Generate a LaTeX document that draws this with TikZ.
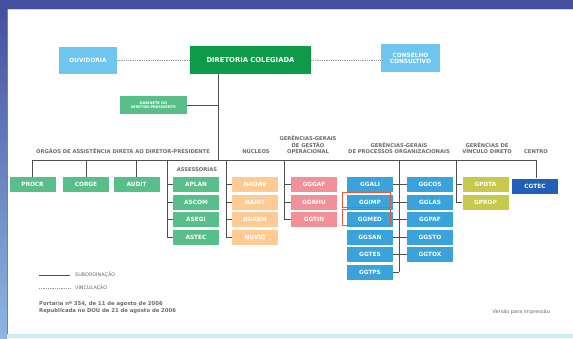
\documentclass[tikz,border=0pt]{standalone}
\usepackage{fontspec}
\setmainfont{DejaVu Sans}
\usepackage{tikz}
\usetikzlibrary{positioning,calc}
\definecolor{anvframe}{HTML}{4650A0}
\definecolor{anvframelight}{HTML}{8DB6E2}
\definecolor{anvsky}{HTML}{6EC6F0}
\definecolor{anvgreen}{HTML}{0F9A4A}
\definecolor{anvmint}{HTML}{58BF8B}
\definecolor{anvpeach}{HTML}{FFCB92}
\definecolor{anvrose}{HTML}{F2909A}
\definecolor{anvblue}{HTML}{3AA3DB}
\definecolor{anvolive}{HTML}{C6C94C}
\definecolor{anvnavy}{HTML}{2160B6}
\definecolor{anvline}{HTML}{4F4F4F}
\definecolor{anvtext}{HTML}{6A6A6A}
\definecolor{anvred}{HTML}{E8583A}
\tikzstyle{unit} = [font=\bfseries\fontsize{5.8}{7}\selectfont, text=white, minimum width=46pt, minimum height=15pt, inner sep=0pt]
\tikzstyle{head} = [font=\bfseries\fontsize{5.2}{6.4}\selectfont, text=anvtext, align=center, anchor=south, inner sep=0pt]
\tikzstyle{legend} = [font=\fontsize{4.9}{5.5}\selectfont, text=anvtext, anchor=west, inner sep=0pt]
\tikzstyle{sub} = [anvline, line width=0.9pt]
\tikzstyle{vinc} = [anvtext!70, densely dotted, line width=0.8pt]

\begin{document}
\begin{tikzpicture}[x=1pt,y=-1pt]
\useasboundingbox (0,0) rectangle (573,338);
% page and frame
\fill[anvframe] (0,0) rectangle (573,338);
\shade[top color=anvframe, bottom color=anvframelight] (0,9) rectangle (7,338);
\fill[white] (7,9) rectangle (573,334);
\fill[anvsky!35] (7,334) rectangle (573,338);
\draw[gray, line width=1.5pt] (7.5,9) -- (7.5,334);
\draw[red!25, line width=0.6pt] (8,9.5) -- (573,9.5);

% top level
\node[unit, fill=anvsky, minimum width=58pt, minimum height=27pt] (ouvidoria) at (88,60.5) {OUVIDORIA};
\node[unit, fill=anvgreen, minimum width=121pt, minimum height=28pt, font=\bfseries\fontsize{6.8}{8}\selectfont] (diretoria) at (250.5,60) {DIRETORIA COLEGIADA};
\node[unit, fill=anvsky, minimum width=59pt, minimum height=28pt, align=center] (conselho) at (410.5,58) {CONSELHO\\[-1pt]CONSULTIVO};
\draw[vinc] (diretoria.west) -- (diretoria.west -| ouvidoria.east);
\draw[vinc] (diretoria.east) -- (diretoria.east -| conselho.west);

\node[unit, fill=anvmint, minimum width=67pt, minimum height=18pt, align=center, font=\bfseries\fontsize{3.6}{4.4}\selectfont] (gabinete) at (153.5,105) {GABINETE DO\\DIRETOR-PRESIDENTE};

% trunk and bar
\coordinate (trunk) at (218,160);
\coordinate (barw) at (32,160);
\coordinate (bare) at (536,160);
\draw[sub] (diretoria.south -| trunk) -- (trunk);
\draw[sub] (gabinete.east) -- (gabinete.east -| trunk);
\draw[sub] (barw) -- (bare);

% headers
\node[head] (hdorgaos) at (123,154) {ÓRGÃOS DE ASSISTÊNCIA DIRETA AO DIRETOR-PRESIDENTE};
\node[head] (hdnucleos) at (256,154) {NÚCLEOS};
\node[head] (hdoper) at (308,154) {GERÊNCIAS-GERAIS\\DE GESTÃO\\OPERACIONAL};
\node[head] (hdproc) at (399,154) {GERÊNCIAS-GERAIS\\DE PROCESSOS ORGANIZACIONAIS};
\node[head] (hdvinc) at (487,154) {GERÊNCIAS DE\\VÍNCULO DIRETO};
\node[head] (hdcentro) at (536,154) {CENTRO};
\node[head, anchor=center] (hdassess) at (197,170) {ASSESSORIAS};

% orgaos de assistencia direta
\foreach \n/\lbl/\x in {procr/PROCR/32.5, corge/CORGE/86, audit/AUDIT/136.5}{
  \node[unit, fill=anvmint] (\n) at (\x,184.5) {\lbl};
  \draw[sub] (\n.north) -- (\n.north |- barw);
}

% assessorias
\coordinate (asvert) at (167,160);
\foreach \n/\lbl/\y in {aplan/APLAN/184.5, ascom/ASCOM/202, asegi/ASEGI/219.5, astec/ASTEC/237}{
  \node[unit, fill=anvmint] (\n) at (196,\y) {\lbl};
  \draw[sub] (\n.west) -- (\n.west -| asvert);
}
\draw[sub] (asvert) -- (asvert |- astec);

% nucleos
\coordinate (nuvert) at (226,160);
\foreach \n/\lbl/\y in {nadav/NADAV/184.5, naint/NAINT/202, nurem/NUREM/219.5, nuvig/NUVIG/237}{
  \node[unit, fill=anvpeach] (\n) at (255,\y) {\lbl};
  \draw[sub] (\n.west) -- (\n.west -| nuvert);
}
\draw[sub] (nuvert) -- (nuvert |- nuvig);

% gestao operacional
\coordinate (opvert) at (284,160);
\foreach \n/\lbl/\y in {gggaf/GGGAF/184.5, ggrhu/GGRHU/202, ggtin/GGTIN/219.5}{
  \node[unit, fill=anvrose] (\n) at (314,\y) {\lbl};
  \draw[sub] (\n.west) -- (\n.west -| opvert);
}
\draw[sub] (opvert) -- (opvert |- ggtin);

% processos organizacionais
\coordinate (procvert) at (399,160);
\foreach \a/\b/\y in {GGALI/GGCOS/184.5, GGIMP/GGLAS/202, GGMED/GGPAF/219.5, GGSAN/GGSTO/237, GGTES/GGTOX/254.5}{
  \node[unit, fill=anvblue] (\a) at (370,\y) {\a};
  \node[unit, fill=anvblue] (\b) at (430,\y) {\b};
  \draw[sub] (\a) -- (\b);
}
\node[unit, fill=anvblue] (GGTPS) at (370,272) {GGTPS};
\draw[sub] (GGTPS.east) -- (GGTPS.east -| procvert);
\draw[sub] (procvert) -- (procvert |- GGTPS);
\foreach \n in {GGIMP, GGMED}{
  \draw[anvred, line width=1.1pt] ([xshift=-4pt,yshift=2pt]\n.south west) rectangle ([xshift=-3pt,yshift=2pt]\n.north east);
}

% vinculo direto
\coordinate (vdvert) at (456,160);
\foreach \n/\lbl/\y in {gpdta/GPDTA/184.5, gprop/GPROP/202}{
  \node[unit, fill=anvolive] (\n) at (485.5,\y) {\lbl};
  \draw[sub] (\n.west) -- (\n.west -| vdvert);
}
\draw[sub] (vdvert) -- (vdvert |- gprop);

% centro
\node[unit, fill=anvnavy] (cgtec) at (535,186) {CGTEC};
\draw[sub] (bare) -- (bare |- cgtec.north);

% legend
\coordinate (legsubA) at (39,275);
\coordinate (legsubB) at (70,275);
\coordinate (legvinA) at (39,288);
\coordinate (legvinB) at (70,288);
\draw[sub] (legsubA) -- (legsubB);
\draw[vinc] (legvinA) -- (legvinB);
\node[legend] (legsub) at (75,275) {SUBORDINAÇÃO};
\node[legend] (legvin) at (75,288) {VINCULAÇÃO};

\node[font=\bfseries\fontsize{5.3}{7}\selectfont, text=anvtext, anchor=west, align=left, inner sep=0pt] (portaria) at (39,307.5) {Portaria nº 354, de 11 de agosto de 2006\\Republicada no DOU de 21 de agosto de 2006};
\node[font=\fontsize{5}{6}\selectfont, text=anvtext, anchor=east, inner sep=0pt] (versao) at (550,312) {Versão para impressão};
\end{tikzpicture}
\end{document}
